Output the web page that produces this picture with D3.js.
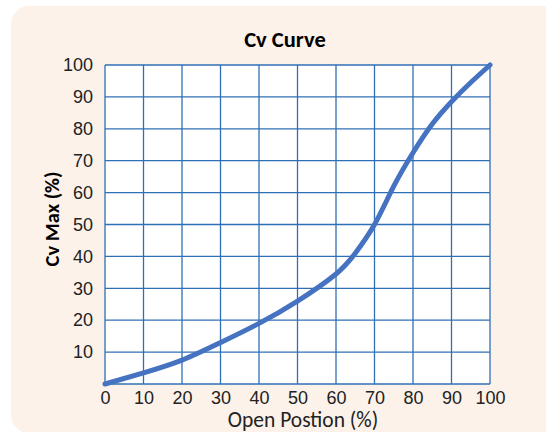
<!DOCTYPE html>
<html>
  <head>
    <meta charset="utf-8">
    <script src="https://d3js.org/d3.v7.min.js"></script>
    <style>
      body { margin: 0; background: #fff; }
      svg { display: block; font-family: Carlito, "Open Sans", "Noto Sans", sans-serif; }
    </style>
  </head>
  <body>
    <script>
      // values
      const openPos = [0, 10, 20, 30, 40, 50, 60, 65, 70, 75, 80, 85, 90, 95, 100]
      const cvMax = [0, 3.5, 7.5, 13, 19, 26, 34.5, 41, 50, 62, 72.5, 81.5, 88.5, 94.5, 100]
      const xTicks = [0, 10, 20, 30, 40, 50, 60, 70, 80, 90, 100]
      const yTicks = [10, 20, 30, 40, 50, 60, 70, 80, 90, 100]

      const w = 546, h = 432
      const svg = d3.select("body").append("svg")
        .attr("width", w).attr("height", h)

      svg.append("rect")
        .attr("x", 11).attr("y", 6)
        .attr("width", 550).attr("height", 427)
        .attr("rx", 18)
        .attr("fill", "#fcf2ea")

      const x = d3.scaleLinear().domain([0, 100]).range([105, 490])
      const y = d3.scaleLinear().domain([0, 100]).range([384, 65])

      svg.append("rect")
        .attr("x", x(0)).attr("y", y(100))
        .attr("width", x(100) - x(0)).attr("height", y(0) - y(100))
        .attr("fill", "#fff")

      const grid = svg.append("g")
        .attr("stroke", "#2f6fb6").attr("stroke-width", 1.3)
      grid.selectAll("line.v").data(xTicks).join("line")
        .attr("class", "v")
        .attr("x1", d => x(d)).attr("x2", d => x(d))
        .attr("y1", y(0)).attr("y2", y(100))
      grid.selectAll("line.h").data([0].concat(yTicks)).join("line")
        .attr("class", "h")
        .attr("y1", d => y(d)).attr("y2", d => y(d))
        .attr("x1", x(0)).attr("x2", x(100))

      svg.append("g")
        .attr("transform", "translate(" + x(0) + ",0)")
        .call(d3.axisLeft(y).tickValues(yTicks).tickSize(0).tickPadding(12))
        .call(g => g.select(".domain").remove())
        .call(g => g.selectAll("text").attr("font-size", 18).attr("fill", "#222").attr("font-family", null))

      svg.append("g")
        .attr("transform", "translate(0," + y(0) + ")")
        .call(d3.axisBottom(x).tickValues(xTicks).tickSize(0).tickPadding(7))
        .call(g => g.select(".domain").remove())
        .call(g => g.selectAll("text").attr("font-size", 18).attr("fill", "#222").attr("font-family", null))

      const line = d3.line()
        .x((d, i) => x(openPos[i]))
        .y(d => y(d))
        .curve(d3.curveNatural)

      svg.append("path")
        .datum(cvMax)
        .attr("d", line)
        .attr("fill", "none")
        .attr("stroke", "#4673c1")
        .attr("stroke-width", 5)
        .attr("stroke-linecap", "round")

      svg.append("text")
        .attr("x", 285).attr("y", 47)
        .attr("text-anchor", "middle")
        .attr("font-size", 22.5).attr("font-weight", "bold")
        .text("Cv Curve")

      svg.append("text")
        .attr("transform", "translate(59,219) rotate(-90)")
        .attr("text-anchor", "middle")
        .attr("font-size", 20.5).attr("font-weight", "bold")
        .text("Cv Max (%)")

      svg.append("text")
        .attr("x", 303).attr("y", 427)
        .attr("text-anchor", "middle")
        .attr("font-size", 21.5).attr("fill", "#222")
        .text("Open Postion (%)")
    </script>
  </body>
</html>
